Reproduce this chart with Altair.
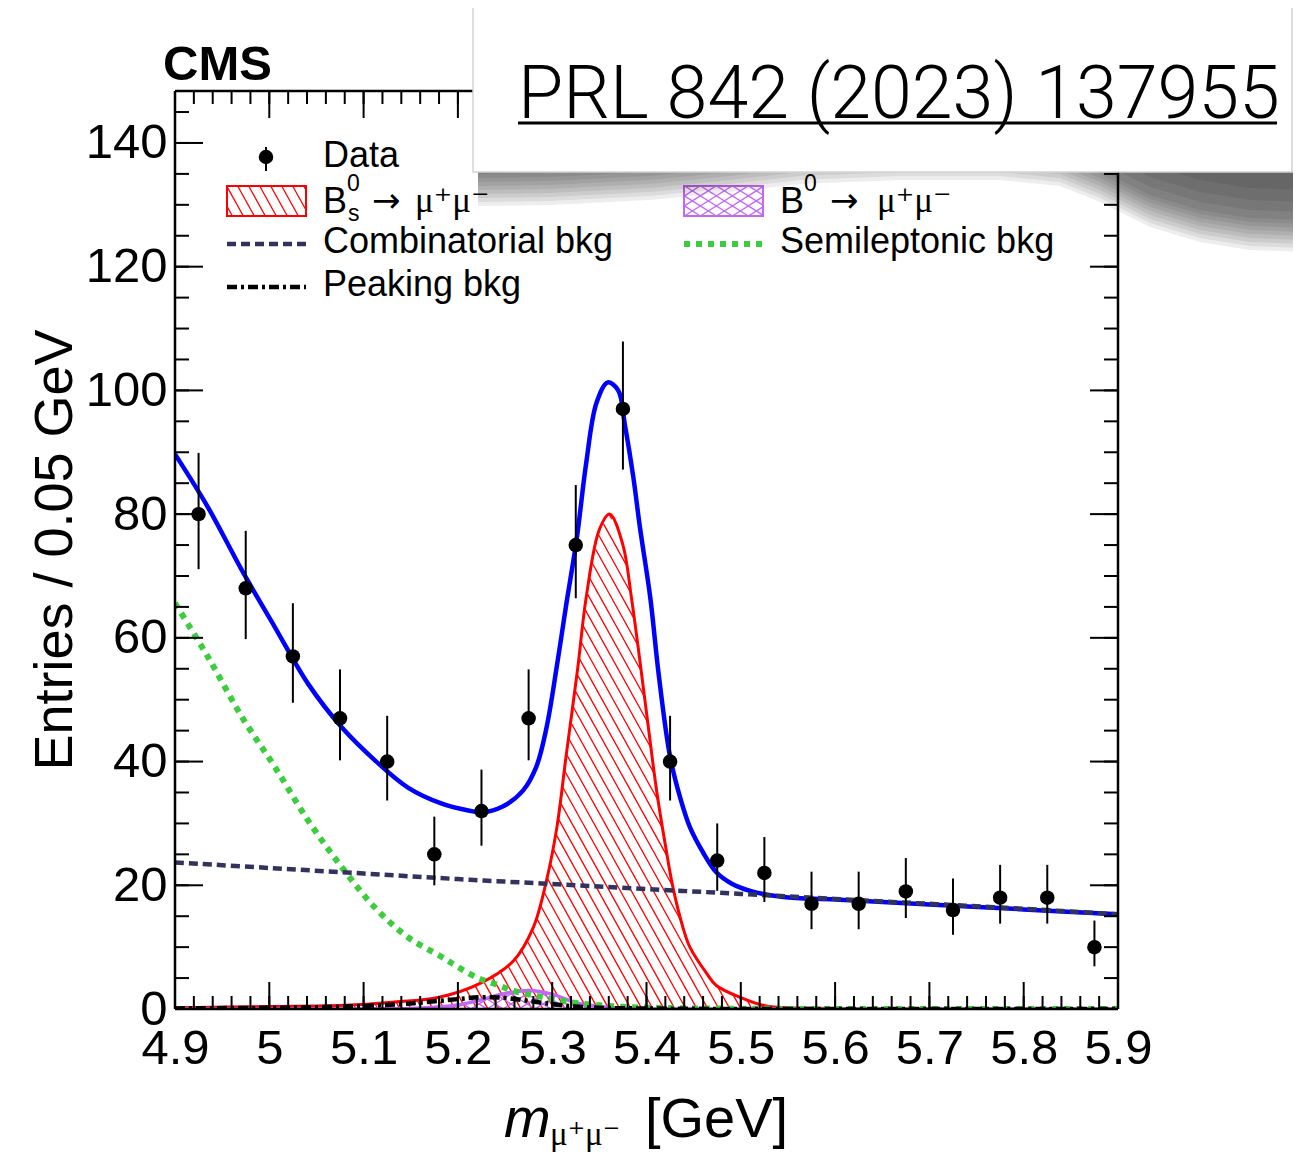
import altair as alt
import numpy as np
import pandas as pd

# ---------------- data ----------------
bin_centers = [4.925, 4.975, 5.025, 5.075, 5.125, 5.175, 5.225, 5.275, 5.325, 5.375,
               5.425, 5.475, 5.525, 5.575, 5.625, 5.675, 5.725, 5.775, 5.825, 5.875]
counts = [80, 68, 57, 47, 40, 25, 32, 47, 75, 97, 40, 24, 22, 17, 17, 19, 16, 18, 18, 10]
err_lo = [8.9, 8.2, 7.5, 6.8, 6.3, 5.0, 5.6, 6.8, 8.6, 9.8, 6.3, 4.9, 4.7, 4.1, 4.1, 4.3, 4.0, 4.2, 4.2, 3.1]
err_hi = [9.9, 9.3, 8.6, 7.9, 7.4, 6.1, 6.7, 7.9, 9.7, 10.9, 7.4, 6.0, 5.8, 5.2, 5.2, 5.4, 5.1, 5.3, 5.3, 4.3]

total_m = [4.900, 4.935, 4.971, 5.006, 5.041, 5.077, 5.112, 5.147, 5.183, 5.211, 5.225, 5.247,
           5.269, 5.283, 5.294, 5.305, 5.315, 5.326, 5.336, 5.347, 5.359, 5.370, 5.377, 5.386,
           5.393, 5.404, 5.413, 5.425, 5.436, 5.446, 5.460, 5.474, 5.490, 5.510, 5.545, 5.600,
           5.700, 5.800, 5.900]
total_v = [89.7, 81.1, 70.9, 61.7, 52.6, 45.5, 40.2, 35.8, 33.2, 32.1, 31.8, 32.7,
           35.3, 39.1, 45.5, 55.5, 65.5, 76.0, 88.2, 98.0, 101.3, 100.0, 94.5, 86.0,
           77.9, 66.5, 54.0, 40.8, 34.0, 29.4, 25.3, 22.1, 20.3, 19.1, 18.1, 17.7,
           16.9, 16.1, 15.3]

bs_m = [4.900, 5.000, 5.080, 5.130, 5.180, 5.223, 5.259, 5.280, 5.294, 5.305, 5.315, 5.327,
        5.336, 5.350, 5.361, 5.375, 5.384, 5.393, 5.402, 5.411, 5.420, 5.428, 5.439, 5.446,
        5.464, 5.474, 5.499, 5.527, 5.600, 5.700, 5.900]
bs_v = [0.2, 0.4, 0.6, 1.1, 1.9, 4.1, 7.8, 13.2, 20.8, 29.4, 41.2, 55.0,
        66.5, 77.5, 80.0, 75.0, 66.5, 56.3, 45.5, 35.0, 26.5, 19.7, 13.0, 10.0,
        5.7, 3.8, 1.9, 0.5, 0.1, 0.0, 0.0]

b0_m = [4.900, 5.100, 5.150, 5.175, 5.200, 5.225, 5.250, 5.275, 5.300, 5.325, 5.350, 5.375,
        5.400, 5.450, 5.900]
b0_v = [0.0, 0.02, 0.1, 0.3, 0.65, 1.5, 2.5, 3.0, 2.4, 1.0, 0.4, 0.12, 0.03, 0.0, 0.0]

comb_m = [4.9, 5.0, 5.1, 5.2, 5.3, 5.4, 5.5, 5.6, 5.7, 5.8, 5.9]
comb_v = [23.7, 22.8, 21.9, 21.0, 20.2, 19.4, 18.6, 17.8, 17.0, 16.2, 15.3]

semi_m = [4.900, 4.935, 4.971, 5.006, 5.041, 5.077, 5.112, 5.147, 5.183, 5.200, 5.220, 5.240,
          5.260, 5.287, 5.329, 5.370, 5.420, 5.500, 5.600, 5.900]
semi_v = [65.6, 56.9, 47.2, 39.1, 30.5, 22.9, 16.4, 11.6, 8.4, 6.8, 5.1, 4.0,
          2.9, 2.0, 0.9, 0.4, 0.15, 0.05, 0.0, 0.0]

peak_m = [4.900, 5.000, 5.050, 5.100, 5.150, 5.200, 5.225, 5.250, 5.275, 5.300, 5.325, 5.350,
          5.400, 5.500, 5.900]
peak_v = [0.1, 0.2, 0.3, 0.5, 0.9, 1.6, 1.9, 1.8, 1.3, 0.8, 0.4, 0.2, 0.08, 0.0, 0.0]

x_major = [4.9, 5.0, 5.1, 5.2, 5.3, 5.4, 5.5, 5.6, 5.7, 5.8, 5.9]
y_major = [0, 20, 40, 60, 80, 100, 120, 140]

# page-shadow outline under the overlay box (page pixels, decoration only)
shadow_px = [478, 550, 650, 720, 800, 900, 1000, 1060, 1100, 1150, 1200, 1250, 1303]
shadow_depth = [34, 33, 28, 21, 12, 8, 8, 14, 30, 55, 70, 78, 80]
shadow_cuts = [0, 4, 8, 12, 16, 20, 24, 28, 32, 40, 50, 62]

# ---------------- layout / style ----------------
W, H = 943, 918
XMIN, XMAX = 4.9, 5.9
YMAX = 148.4
PXX = W / (XMAX - XMIN)
PXY = H / YMAX
OX, OY = 175, 91  # page position of the plot origin
FONT = "Liberation Sans, Arial, Helvetica, sans-serif"
SERIF = "Liberation Serif, DejaVu Serif, serif"
RED = "#ff0000"
BLUE = "#0000ff"
PURPLE = "#c466f8"
NAVY = "#32325f"
GREEN = "#3ccd3c"
CURVE_INTERP = "catmull-rom"

x_minor = [round(4.9 + 0.02 * i, 2) for i in range(51)]
y_minor = [5 * i for i in range(30)]

XS = alt.Scale(domain=[XMIN, XMAX], nice=False, zero=False)
YS = alt.Scale(domain=[0, YMAX], nice=False, zero=False)
XA = alt.Axis(values=x_major, format="~g", labelFontSize=49, labelFont=FONT, labelColor="black",
              ticks=False, domain=False, grid=False, title=None, labelPadding=15,
              labelFlush=False, labelOverlap=False)
YA = alt.Axis(values=y_major, format="d", labelFontSize=49, labelFont=FONT, labelColor="black",
              ticks=False, domain=False, grid=False, title=None, labelPadding=8,
              labelFlush=False, labelOverlap=False)


def X(f):
    return alt.X(f, type="quantitative", scale=XS, axis=XA)


def Y(f):
    return alt.Y(f, type="quantitative", scale=YS, axis=YA)


def px2m(px):
    return XMIN + (np.asarray(px, dtype=float) - OX) / PXX


def py2v(py):
    return (H - (np.asarray(py, dtype=float) - OY)) / PXY


dummy = alt.Data(values=[{"a": 1}])


def curve_hatch(ms, vs, spacing, slope, sign):
    grid = np.linspace(ms[0], ms[-1], 8001)
    f = np.interp(grid, ms, vs)
    gx = (grid - XMIN) * PXX
    fy = f * PXY
    rows = []
    for x0 in np.arange(-600, W + 600, spacing):
        h = slope * (x0 - gx) if sign < 0 else slope * (gx - x0)
        inside = (h >= 0) & (h <= fy) & (fy > 0.4)
        if not inside.any():
            continue
        idx = np.flatnonzero(inside)
        br = np.flatnonzero(np.diff(idx) > 1)
        starts = np.r_[idx[0], idx[br + 1]]
        ends = np.r_[idx[br], idx[-1]]
        for a, b in zip(starts, ends):
            if b - a < 2:
                continue
            rows.append({"m1": grid[a], "v1": h[a] / PXY, "m2": grid[b], "v2": h[b] / PXY})
    return pd.DataFrame(rows)


def box_hatch(xl, xr, yt, yb, spacing, slope, sign):
    rows = []
    hh = yb - yt
    for x0 in np.arange(xl - hh / slope - spacing, xr + hh / slope + spacing, spacing):
        if sign < 0:
            lo, hi = (x0 - xr) * slope, (x0 - xl) * slope
        else:
            lo, hi = (xl - x0) * slope, (xr - x0) * slope
        ta, tb = max(0.0, lo), min(hh, hi)
        if tb <= ta:
            continue
        xa = x0 - ta / slope if sign < 0 else x0 + ta / slope
        xb = x0 - tb / slope if sign < 0 else x0 + tb / slope
        rows.append({"m1": XMIN + xa / PXX, "v1": (H - (yb - ta)) / PXY,
                     "m2": XMIN + xb / PXX, "v2": (H - (yb - tb)) / PXY})
    return pd.DataFrame(rows)


def hatch_layer(df, color, width):
    return alt.Chart(df).mark_rule(color=color, strokeWidth=width).encode(
        x=X("m1"), y=Y("v1"), x2="m2", y2="v2")


def line_layer(ms, vs, color, width, dash=None):
    kw = dict(color=color, strokeWidth=width, interpolate=CURVE_INTERP, clip=True)
    if dash:
        kw["strokeDash"] = dash
        kw["strokeCap"] = "butt"
    return alt.Chart(pd.DataFrame({"m": ms, "v": vs})).mark_line(**kw).encode(x=X("m"), y=Y("v"))


def txt(s, x, y, size, font=FONT, align="left", baseline="alphabetic", **kw):
    return alt.Chart(dummy).mark_text(text=s, fontSize=size, font=font, align=align,
                                      baseline=baseline, color="black", **kw).encode(
        x=alt.value(x), y=alt.value(y))


def hrule(x1, x2, y, color, width, dash=None):
    kw = dict(color=color, strokeWidth=width)
    if dash:
        kw["strokeDash"] = dash
        kw["strokeCap"] = "butt"
    return alt.Chart(dummy).mark_rule(**kw).encode(x=alt.value(x1), x2=alt.value(x2), y=alt.value(y))


def vrule(x, y1, y2, color="black", width=2):
    return alt.Chart(dummy).mark_rule(color=color, strokeWidth=width).encode(
        x=alt.value(x), y=alt.value(y1), y2=alt.value(y2))


layers = []

# hatched fills
layers.append(hatch_layer(curve_hatch(bs_m, bs_v, 11, 1.8, -1), RED, 1.3))
layers.append(hatch_layer(curve_hatch(b0_m, b0_v, 16, 0.63, -1), PURPLE, 1.4))
layers.append(hatch_layer(curve_hatch(b0_m, b0_v, 16, 0.63, 1), PURPLE, 1.4))

# curves
layers.append(line_layer(bs_m, bs_v, RED, 3))
layers.append(line_layer(b0_m, b0_v, PURPLE, 3.5))
layers.append(line_layer(semi_m, semi_v, GREEN, 6, [6, 6]))
layers.append(line_layer(peak_m, peak_v, "black", 4.5, [10, 4, 3, 4]))
layers.append(line_layer(total_m, total_v, BLUE, 4.5))
layers.append(line_layer(comb_m, comb_v, NAVY, 4.5, [9, 5]))

# data points
pts = pd.DataFrame({"m": bin_centers, "n": counts,
                    "lo": [c - e for c, e in zip(counts, err_lo)],
                    "hi": [c + e for c, e in zip(counts, err_hi)]})
layers.append(alt.Chart(pts).mark_rule(color="black", strokeWidth=2).encode(
    x=X("m"), y=Y("lo"), y2="hi"))
layers.append(alt.Chart(pts).mark_circle(color="black", opacity=1, size=210).encode(
    x=X("m"), y=Y("n")))

# ticks (inward, all four sides)
xmaj = pd.DataFrame({"t": x_major})
xmin_ = pd.DataFrame({"t": x_minor})
ymaj = pd.DataFrame({"t": y_major})
ymin_ = pd.DataFrame({"t": y_minor})
layers.append(alt.Chart(xmaj).mark_rule(color="black", strokeWidth=2).encode(
    x=X("t"), y=alt.value(H), y2=alt.value(H - 27)))
layers.append(alt.Chart(xmaj).mark_rule(color="black", strokeWidth=2).encode(
    x=X("t"), y=alt.value(0), y2=alt.value(27)))
layers.append(alt.Chart(xmin_).mark_rule(color="black", strokeWidth=2).encode(
    x=X("t"), y=alt.value(H), y2=alt.value(H - 13)))
layers.append(alt.Chart(xmin_).mark_rule(color="black", strokeWidth=2).encode(
    x=X("t"), y=alt.value(0), y2=alt.value(13)))
layers.append(alt.Chart(ymaj).mark_rule(color="black", strokeWidth=2).encode(
    y=Y("t"), x=alt.value(0), x2=alt.value(28)))
layers.append(alt.Chart(ymaj).mark_rule(color="black", strokeWidth=2).encode(
    y=Y("t"), x=alt.value(W), x2=alt.value(W - 28)))
layers.append(alt.Chart(ymin_).mark_rule(color="black", strokeWidth=2).encode(
    y=Y("t"), x=alt.value(0), x2=alt.value(14)))
layers.append(alt.Chart(ymin_).mark_rule(color="black", strokeWidth=2).encode(
    y=Y("t"), x=alt.value(W), x2=alt.value(W - 14)))

# frame
layers.append(vrule(0, 0, H, width=2.5))
layers.append(vrule(W, 0, H, width=2.5))
layers.append(hrule(0, W, 0, "black", 2.5))
layers.append(hrule(0, W, H, "black", 2.5))

# ---------------- legend ----------------
ARROW_FONT = "DejaVu Sans, Liberation Sans, sans-serif"
layers.append(vrule(91, 56, 80, width=2))
layers.append(alt.Chart(dummy).mark_circle(color="black", opacity=1, size=210).encode(
    x=alt.value(91), y=alt.value(66)))
layers.append(txt("Data", 148, 76, 36))

layers.append(hatch_layer(box_hatch(52, 131, 95, 125, 11, 1.8, -1), RED, 1.3))
layers.append(alt.Chart(dummy).mark_rect(fill=None, stroke=RED, strokeWidth=2).encode(
    x=alt.value(52), x2=alt.value(131), y=alt.value(95), y2=alt.value(125)))
layers.append(txt("B", 148, 122, 36))
layers.append(txt("0", 172, 100, 23))
layers.append(txt("s", 173, 130, 23))
layers.append(txt("\u2192", 197, 121, 34, font=ARROW_FONT))
layers.append(txt("\u03bc\u207a\u03bc\u207b", 240, 121, 35, font=SERIF))

layers.append(hrule(52, 131, 153, NAVY, 4.5, [9, 5]))
layers.append(txt("Combinatorial bkg", 148, 162, 36))
layers.append(hrule(52, 131, 196, "black", 4.5, [10, 4, 3, 4]))
layers.append(txt("Peaking bkg", 148, 205, 36))

layers.append(hatch_layer(box_hatch(509, 588, 95, 125, 16, 0.63, -1), PURPLE, 1.4))
layers.append(hatch_layer(box_hatch(509, 588, 95, 125, 16, 0.63, 1), PURPLE, 1.4))
layers.append(alt.Chart(dummy).mark_rect(fill=None, stroke=PURPLE, strokeWidth=2).encode(
    x=alt.value(509), x2=alt.value(588), y=alt.value(95), y2=alt.value(125)))
layers.append(txt("B", 605, 122, 36))
layers.append(txt("0", 629, 100, 23))
layers.append(txt("\u2192", 655, 121, 34, font=ARROW_FONT))
layers.append(txt("\u03bc\u207a\u03bc\u207b", 702, 121, 35, font=SERIF))
layers.append(hrule(509, 588, 153, GREEN, 6, [6, 6]))
layers.append(txt("Semileptonic bkg", 605, 162, 36))

# ---------------- overlay box with soft page shadow ----------------
gpx = np.linspace(shadow_px[0], shadow_px[-1], 300)
gdepth = np.interp(gpx, shadow_px, shadow_depth)
top_py = 172.0
for cut in shadow_cuts:
    d = np.clip(gdepth - cut, 0, None)
    df_sh = pd.DataFrame({"m": px2m(gpx), "top": py2v(np.full_like(gpx, top_py)),
                          "bot": py2v(top_py + d)})
    layers.append(alt.Chart(df_sh).mark_area(color="black", opacity=0.07, interpolate="monotone").encode(
        x=X("m"), y=Y("top"), y2="bot"))

layers.append(alt.Chart(dummy).mark_rect(fill="white", stroke="#d4d4d4", strokeWidth=1.5).encode(
    x=alt.value(298), x2=alt.value(1117), y=alt.value(-86), y2=alt.value(81)))
layers.append(txt("PRL 842 (2023) 137955", 343, 27, 73.5,
                  font="Roboto, Liberation Sans, sans-serif", fontWeight=300))
layers.append(hrule(343, 1102, 32, "black", 3))

# ---------------- titles ----------------
layers.append(txt("CMS", -12, -11, 49, fontWeight="bold"))
layers.append(txt("m", 329, 1046, 56, fontStyle="italic"))
layers.append(txt("\u03bc\u207a\u03bc\u207b", 375, 1054, 33, font=SERIF))
layers.append(txt("[GeV]", 470, 1046, 56))
layers.append(txt("Entries / 0.05 GeV", -103, 459, 54, align="center", angle=270))

chart = alt.layer(*layers).properties(
    width=W, height=H,
    padding={"left": 167, "top": 83, "right": 175, "bottom": 146},
    autosize=alt.AutoSizeParams(type="none"),
    background="white",
).configure_view(stroke=None)

chart.save("out.html", embed_options={"renderer": "svg", "actions": False})
